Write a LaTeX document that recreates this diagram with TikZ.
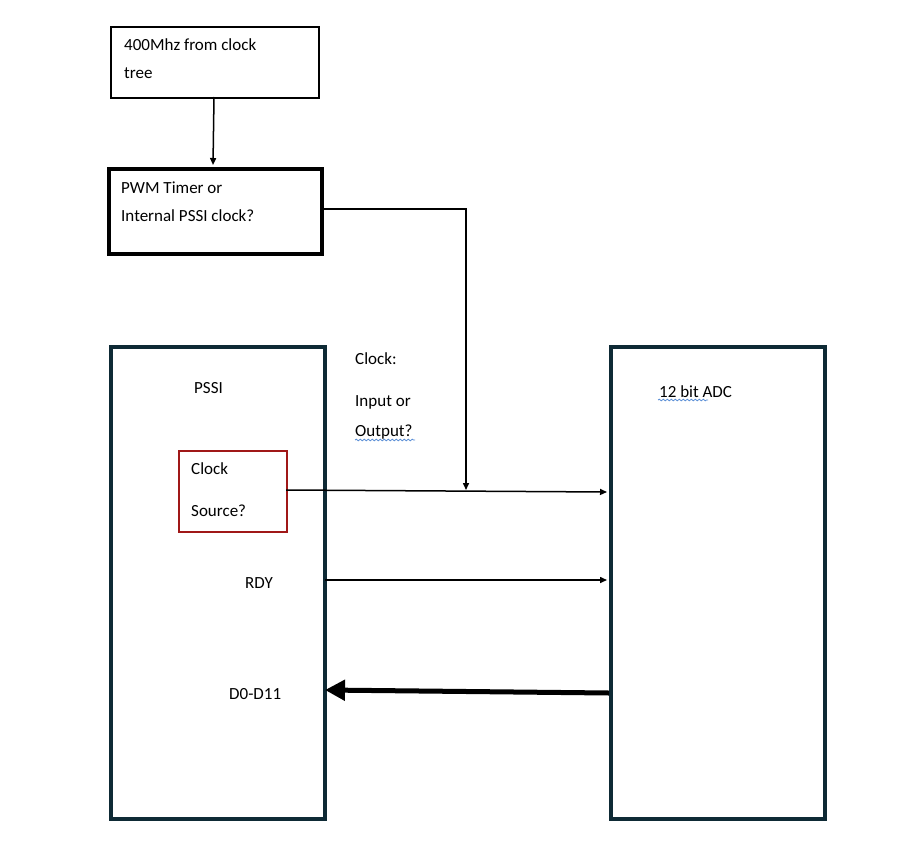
\documentclass[tikz,border=0pt]{standalone}
\usepackage{fontspec}
\setmainfont{Carlito}
\usetikzlibrary{arrows.meta,decorations.pathmorphing}
\definecolor{teal}{HTML}{0E2A35}
\definecolor{dred}{HTML}{A01818}
\definecolor{ublue}{HTML}{5B8FD6}
\begin{document}
\begin{tikzpicture}[x=1pt,y=-1pt,
  txt/.style={anchor=west,inner sep=0pt,font=\fontsize{17}{20}\selectfont},
  arr/.style={-{Triangle[length=7,width=6]},line width=1.5pt},
  wav/.style={ublue,line width=0.8pt,decorate,decoration={snake,amplitude=0.8pt,segment length=4pt}}]
\useasboundingbox (0,0) rectangle (909,853);
\node[draw,line width=2pt,minimum width=208,minimum height=71,anchor=north west,inner sep=0] (b1) at (110,26) {};
\node[draw,line width=4pt,minimum width=213,minimum height=85,anchor=north west,inner sep=0] (b2) at (107,167) {};
\node[draw=teal,line width=4pt,minimum width=214,minimum height=472,anchor=north west,inner sep=0] (pssi) at (109,345) {};
\node[draw=teal,line width=4pt,minimum width=214,minimum height=472,anchor=north west,inner sep=0] (adc) at (609,345) {};
\node[draw=dred,line width=2pt,minimum width=108,minimum height=81,anchor=north west,inner sep=0] (cs) at (178,450) {};
\node[txt] (t1) at (124,45) {400Mhz from clock};
\node[txt] (t2) at (124,73) {tree};
\node[txt] (t3) at (121,188) {PWM Timer or};
\node[txt] (t4) at (121,216) {Internal PSSI clock?};
\node[txt] (t5) at (194,388) {PSSI};
\node[txt] (t6) at (191,469) {Clock};
\node[txt] (t7) at (191,511) {Source?};
\node[txt] (t8) at (245,583) {RDY};
\node[txt] (t9) at (229,694) {D0-D11};
\node[txt] (t10) at (355,359) {Clock:};
\node[txt] (t11) at (355,402) {Input or};
\node[txt] (t12) at (355,432) {Output?};
\node[txt] (t13) at (659,392) {12 bit ADC};
\draw[wav] (355,440) -- (415,440);
\draw[wav] (658,400) -- (708,400);
\coordinate (c1) at (214,97);
\coordinate (c2) at (213,165);
\draw[arr] (c1) -- (c2);
\coordinate (k) at (466,209);
\coordinate (k2) at (466,490);
\draw[arr] (b2.east |- k) -- (k) -- (k2);
\draw[arr] (286,490) -- (607,492);
\draw[arr] (325,580) -- (607,580);
\draw[line width=5pt,-{Triangle[length=20,width=20]}] (609,693) -- (325,690);
\end{tikzpicture}
\end{document}
